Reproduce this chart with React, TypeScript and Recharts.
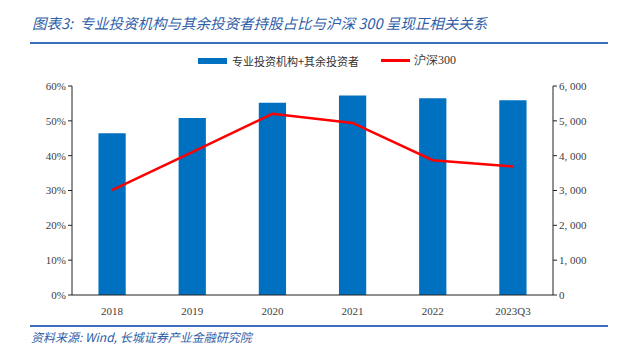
import React from "react";
import { Bar, ComposedChart, Line, XAxis, YAxis } from "recharts";

const categories = ["2018", "2019", "2020", "2021", "2022", "2023Q3"];
const institutionShare = [46.4, 50.8, 55.2, 57.3, 56.5, 55.9];
const hs300 = [3010, 4100, 5200, 4940, 3870, 3690];
const leftTicks = [0, 10, 20, 30, 40, 50, 60];
const rightTicks = [0, 1000, 2000, 3000, 4000, 5000, 6000];

const data = categories.map((name, i) => ({
  name,
  share: institutionShare[i],
  hs300: hs300[i],
}));

const BLUE = "#0070c0";
const RED = "#ff0000";
const TITLE_BLUE = "#2f5ea8";
const tickStyle = { fontSize: 11, fill: "#404040", fontFamily: "'Liberation Serif', serif" };
const cjk = "'Noto Sans CJK SC', sans-serif";

export default function App() {
  return (
    <div style={{ position: "absolute", left: 0, top: 0, width: 640, height: 359, background: "#fff" }}>
      <div
        style={{
          position: "absolute",
          left: 32,
          top: 12,
          fontFamily: cjk,
          fontStyle: "italic",
          fontSize: 14.5,
          color: TITLE_BLUE,
          whiteSpace: "nowrap",
        }}
      >
        图表3:&nbsp;&nbsp;专业投资机构与其余投资者持股占比与沪深 300 呈现正相关关系
      </div>
      <div style={{ position: "absolute", left: 30, top: 42, width: 578, height: 2, background: "#3a6fbf" }} />

      <div
        style={{
          position: "absolute",
          left: 198,
          top: 52,
          display: "flex",
          alignItems: "center",
          fontFamily: cjk,
          fontSize: 11,
          color: "#333",
          whiteSpace: "nowrap",
        }}
      >
        <span style={{ display: "inline-block", width: 29, height: 6, background: BLUE, marginRight: 5 }} />
        <span>专业投资机构+其余投资者</span>
        <span style={{ display: "inline-block", width: 29, height: 3, background: RED, marginLeft: 22, marginRight: 4 }} />
        <span style={{ fontFamily: "'Liberation Serif', serif", fontSize: 12 }}>沪深300</span>
      </div>

      <div style={{ position: "absolute", left: 0, top: 0 }}>
        <ComposedChart
          width={640}
          height={320}
          data={data}
          margin={{ top: 86, right: 35, bottom: 0, left: 22 }}
          barCategoryGap="67%"
        >
          <XAxis
            dataKey="name"
            tick={tickStyle}
            tickLine={false}
            axisLine={{ stroke: "#222" }}
            height={25}
            tickMargin={6}
          />
          <YAxis
            yAxisId="left"
            domain={[0, 60]}
            ticks={leftTicks}
            tickFormatter={(v) => `${v}%`}
            tick={tickStyle}
            tickSize={4}
            axisLine={{ stroke: "#222" }}
            tickLine={{ stroke: "#222" }}
            width={50}
          />
          <YAxis
            yAxisId="right"
            orientation="right"
            domain={[0, 6000]}
            ticks={rightTicks}
            tickFormatter={(v) => Number(v).toLocaleString("en-US").replace(",", ", ")}
            tick={tickStyle}
            tickSize={4}
            axisLine={{ stroke: "#222" }}
            tickLine={{ stroke: "#222" }}
            width={52}
          />
          <Bar yAxisId="left" dataKey="share" fill={BLUE} isAnimationActive={false} />
          <Line
            yAxisId="right"
            dataKey="hs300"
            stroke={RED}
            strokeWidth={2.5}
            dot={false}
            type="linear"
            isAnimationActive={false}
          />
        </ComposedChart>
      </div>

      <div style={{ position: "absolute", left: 30, top: 325, width: 578, height: 2, background: "#3a6fbf" }} />
      <div
        style={{
          position: "absolute",
          left: 31,
          top: 328,
          fontFamily: cjk,
          fontStyle: "italic",
          fontSize: 12,
          color: TITLE_BLUE,
          whiteSpace: "nowrap",
        }}
      >
        资料来源:&nbsp;Wind,&nbsp;长城证券产业金融研究院
      </div>
    </div>
  );
}
